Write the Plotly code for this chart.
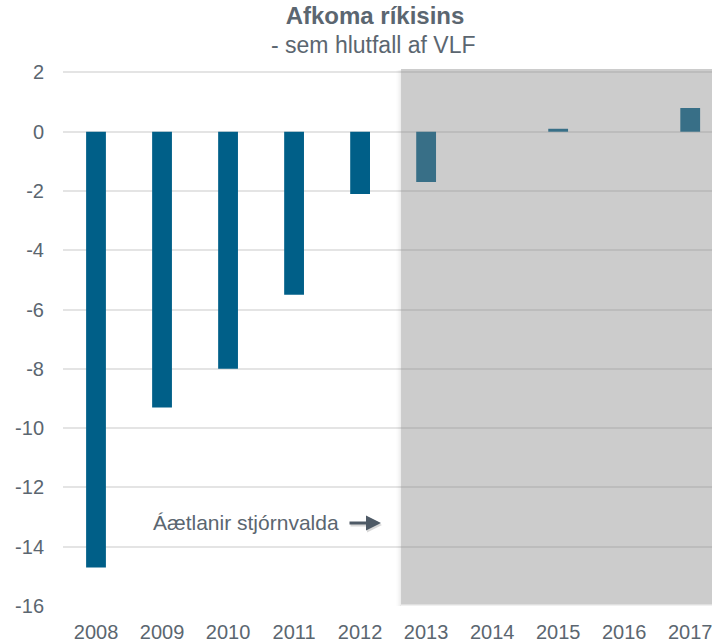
import plotly.graph_objects as go

years = ["2008", "2009", "2010", "2011", "2012", "2013", "2014", "2015", "2016", "2017"]
balance = [-14.7, -9.3, -8.0, -5.5, -2.1, -1.7, 0.0, 0.1, 0.0, 0.8]
y_ticks = [2, 0, -2, -4, -6, -8, -10, -12, -14, -16]

title_text = "Afkoma ríkisins"
subtitle_text = "- sem hlutfall af VLF"
note_text = "Áætlanir stjórnvalda"

TXT = "#5b6670"
BAR = "#005f88"
FONT = "Liberation Sans, Arial, sans-serif"

W, H = 712, 643
ML, MR, MT, MB = 63, 0, 68, 37
x_range = [-0.5, 9.33]
y_range = [-16.0, 2.15]
pw = W - ML - MR
ph = H - MT - MB
px_x = (x_range[1] - x_range[0]) / pw
px_y = (y_range[1] - y_range[0]) / ph

fig = go.Figure(go.Bar(x=years, y=balance, marker=dict(color=BAR, line=dict(width=0)),
                       hoverinfo="x+y"))

# forecast shading
fx0 = 4.62
fx1 = 9.6
fy0 = -15.95
fy1 = 2.12
shapes = []
alphas = [0.07, 0.05, 0.035, 0.02, 0.01]
for i, a in enumerate(alphas):
    shapes.append(dict(type="rect", xref="x", yref="y", layer="above",
                       x0=fx0 - (i + 1) * px_x, x1=fx0 - i * px_x,
                       y0=fy0 - 2 * px_y, y1=fy1 - 1 * px_y,
                       fillcolor=f"rgba(0,0,0,{a})", line=dict(width=0)))
    shapes.append(dict(type="rect", xref="x", yref="y", layer="above",
                       x0=fx0 - i * px_x, x1=fx1,
                       y0=fy0 - (i + 1) * px_y, y1=fy0 - i * px_y,
                       fillcolor=f"rgba(0,0,0,{a})", line=dict(width=0)))
shapes.append(dict(type="rect", xref="x", yref="y", layer="above",
                   x0=fx0, x1=fx1, y0=fy0, y1=fy1,
                   fillcolor="rgba(133,133,133,0.42)", line=dict(width=0)))

annotations = [
    dict(text=subtitle_text, xref="paper", yref="paper", x=(373 - ML) / pw, y=(H - MB - 45) / ph,
         xanchor="center", yanchor="middle", showarrow=False,
         font=dict(family=FONT, size=23, color=TXT)),
    dict(text=note_text, xref="x", yref="y", x=(341 - ML) * px_x + x_range[0],
         y=-(522 - MT) * px_y + y_range[1], xanchor="right", yanchor="middle",
         showarrow=False, font=dict(family=FONT, size=21, color=TXT)),
    dict(text="", xref="x", yref="y", x=(382 - ML) * px_x + x_range[0],
         y=-(525 - MT) * px_y + y_range[1], ax=-33, ay=0, showarrow=True,
         arrowhead=2, arrowsize=1, arrowwidth=3, arrowcolor="rgba(0,0,0,0.15)"),
    dict(text="", xref="x", yref="y", x=(381 - ML) * px_x + x_range[0],
         y=-(523 - MT) * px_y + y_range[1], ax=-33, ay=0, showarrow=True,
         arrowhead=2, arrowsize=1, arrowwidth=3, arrowcolor="#4e5a66"),
]

fig.update_layout(
    width=W, height=H,
    margin=dict(l=ML, r=MR, t=MT, b=MB, pad=0),
    paper_bgcolor="white", plot_bgcolor="white",
    bargap=0.7,
    showlegend=False,
    title=dict(text="<b>" + title_text + "</b>", x=375 / W, xanchor="center", xref="container",
               y=1 - 16 / H, yanchor="middle", yref="container",
               font=dict(family=FONT, size=24, color=TXT)),
    font=dict(family=FONT, color=TXT, size=20),
    shapes=shapes,
    annotations=annotations,
    xaxis=dict(type="category", range=x_range, showgrid=False, zeroline=False,
               showline=False, ticks="", tickfont=dict(size=20, color=TXT),
               ticklabelstandoff=12, fixedrange=True),
    yaxis=dict(range=y_range, tickvals=y_ticks, ticktext=[str(v) for v in y_ticks],
               showgrid=True, gridcolor="#e4e4e4", gridwidth=1.5, zeroline=False,
               showline=False, ticks="", tickfont=dict(size=20, color=TXT),
               ticklabelstandoff=18, fixedrange=True),
)

fig.write_html("out.html", config={"displayModeBar": False},
               post_script="document.body.style.margin='0';document.body.style.padding='0';")
